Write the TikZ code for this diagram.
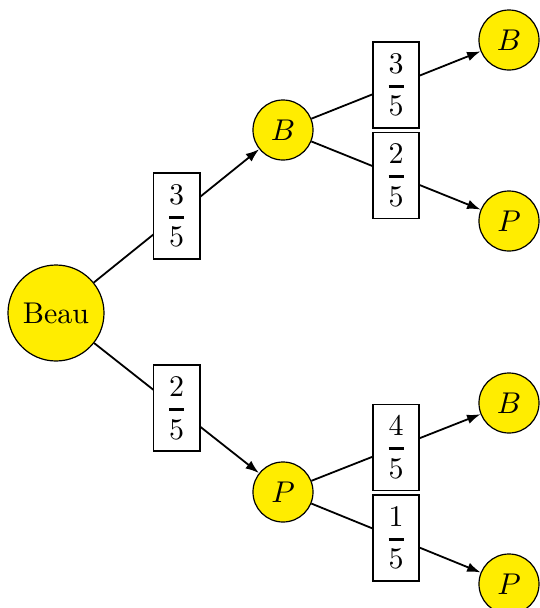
\documentclass[tikz,border=0pt]{standalone}
\usepackage{amsmath}
\usetikzlibrary{arrows.meta}
\definecolor{nodeyellow}{RGB}{255,237,0}
% probability written as a display fraction with a heavier bar
\newcommand{\probfrac}[2]{\genfrac{}{}{1pt}{0}{#1}{#2}}
\tikzset{
  state/.style={circle,draw,fill=nodeyellow,minimum size=20pt,inner sep=0pt},
  rootstate/.style={state,minimum size=32pt},
  prob/.style={draw,fill=white,inner sep=4pt,semithick},
  branch/.style={-{Latex[length=4.5pt,width=3.2pt]},semithick}
}
\begin{document}
\begin{tikzpicture}[x=0.3333pt,y=-0.3333pt]
  \useasboundingbox (0,0) rectangle (539,608);
  % states
  \node[rootstate] (beau) at (56,313) {Beau};
  \node[state] (b)  at (283,130) {$B$};
  \node[state] (p)  at (283,492) {$P$};
  \node[state] (bb) at (509,40)  {$B$};
  \node[state] (bp) at (509,221) {$P$};
  \node[state] (pb) at (509,403) {$B$};
  \node[state] (pp) at (509,584) {$P$};
  % branches with probabilities
  \draw[branch] (beau) -- node[prob] {$\probfrac{3}{5}$} (b);
  \draw[branch] (beau) -- node[prob] {$\probfrac{2}{5}$} (p);
  \draw[branch] (b) -- node[prob] {$\probfrac{3}{5}$} (bb);
  \draw[branch] (b) -- node[prob] {$\probfrac{2}{5}$} (bp);
  \draw[branch] (p) -- node[prob] {$\probfrac{4}{5}$} (pb);
  \draw[branch] (p) -- node[prob] {$\probfrac{1}{5}$} (pp);
\end{tikzpicture}
\end{document}
